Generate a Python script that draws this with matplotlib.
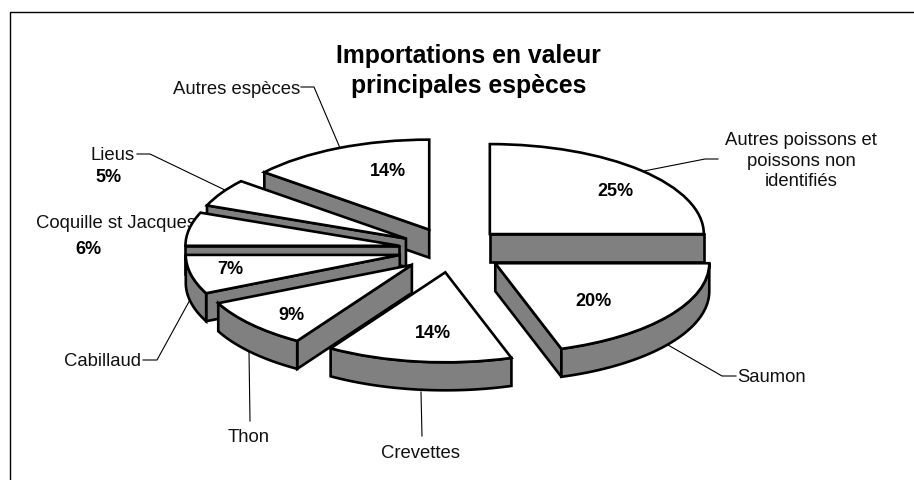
import numpy as np
import matplotlib
matplotlib.use("Agg")
import matplotlib.pyplot as plt
from matplotlib.patches import Wedge, Polygon

plt.rcParams['font.family'] = ['Liberation Sans', 'DejaVu Sans']

# --- data ---
species = ["Autres poissons et\npoissons non\nidentifiés", "Saumon", "Crevettes", "Thon",
           "Cabillaud", "Coquille st Jacques", "Lieus", "Autres espèces"]
shares = [25, 20, 14, 9, 7, 6, 5, 14]
title_text = "Importations en valeur\nprincipales espèces"

# --- style / layout ---
W, H = 914, 480
CX, CY = 452, 250          # pie centre, pixels
RX, RY = 214, 90           # pie radii, pixels
DEPTH = 28 / RY
EXPLODE = 0.25
GREY = "#808080"
LW = 1.9

fig = plt.figure(figsize=(W / 100, H / 100), dpi=100, facecolor="white")

# background layer, in pixels: frame, labels, leaders
back = fig.add_axes([0, 0, 1, 1], zorder=0)
back.set_xlim(0, W)
back.set_ylim(H, 0)
back.axis("off")

# pie layer: one data unit = one radius, so circles come out as ellipses
pie = fig.add_axes([0, 0, 1, 1], zorder=1)
pie.set_xlim(-CX / RX, (W - CX) / RX)
pie.set_ylim(-(H - CY) / RY, CY / RY)
pie.axis("off")
pie.patch.set_alpha(0)

# frame: left and top only
back.plot([9.5, 9.5, W], [H, 12, 12], color="black", lw=1.0, clip_on=False)

# slices
ends = np.cumsum(shares) / sum(shares) * 360
starts = ends - np.array(shares) / sum(shares) * 360


def pt(t, r=1.0):
    a = np.radians(t)
    return r * np.sin(a), r * np.cos(a)


slices = []
for s, e in zip(starts, ends):
    mid = (s + e) / 2
    ox, oy = pt(mid, EXPLODE)
    slices.append((s, e, ox, oy))

wall_kw = dict(facecolor=GREY, edgecolor="black", lw=LW, joinstyle="miter")
for s, e, ox, oy in sorted(slices, key=lambda q: -q[3]):
    # radial cut faces
    for t, visible in ((s, np.sin(np.radians(s)) < -1e-6), (e, np.sin(np.radians(e)) > 1e-6)):
        if visible:
            x, y = pt(t)
            pie.add_patch(Polygon([(ox, oy), (ox + x, oy + y), (ox + x, oy + y - DEPTH),
                                   (ox, oy - DEPTH)], closed=True, **wall_kw))
    # outer rim wall (front half only)
    lo, hi = max(s, 90), min(e, 270)
    if hi > lo:
        ts = np.linspace(lo, hi, 60)
        xs, ys = pt(ts)
        top = np.column_stack([ox + xs, oy + ys])
        bottom = np.column_stack([ox + xs, oy + ys - DEPTH])[::-1]
        pie.add_patch(Polygon(np.vstack([top, bottom]), closed=True, **wall_kw))
    # top face
    pie.add_patch(Wedge((ox, oy), 1, 90 - e, 90 - s, facecolor="white",
                        edgecolor="black", lw=LW, joinstyle="miter"))

# title
back.text(468.5, 71, title_text, ha="center", va="center", fontsize=17.8, fontweight="bold",
          linespacing=1.28)

# category labels and leaders
LABEL = dict(fontsize=13.3, color="#111111", va="center")
LEAD = dict(color="black", lw=0.8)
back.text(801, 161, species[0], ha="center", linespacing=1.25, **LABEL)
back.plot([644, 705, 718], [171, 159, 159], **LEAD)
back.text(737, 377, species[1], ha="left", **LABEL)
back.plot([668, 722, 736], [345, 376, 376], **LEAD)
back.text(421, 453, species[2], ha="center", **LABEL)
back.plot([421, 422], [392, 436], **LEAD)
back.text(249, 437, species[3], ha="center", **LABEL)
back.plot([249, 250], [352, 421], **LEAD)
back.text(141, 361, species[4], ha="right", **LABEL)
back.plot([143, 157, 191], [360, 360, 298], **LEAD)
back.text(36, 223, species[5], ha="left", **LABEL)
back.text(91, 155, species[6], ha="left", **LABEL)
back.plot([137, 150, 227], [154, 154, 191], **LEAD)
back.text(300, 89, species[7], ha="right", **LABEL)
back.plot([301, 314, 340], [87, 87, 148], **LEAD)

# percentages
PCT = dict(fontsize=13, fontweight="bold", color="black", va="center", ha="center")
pct_xy = [(615, 191), (593, 301), (433, 334), (291, 315), (230, 270), (88, 249), (108, 178), (388, 171)]
for v, (x, y) in zip(shares, pct_xy):
    target = pie if (x, y) not in pct_xy[5:7] else back
    target.text(x, y, f"{v}%", transform=back.transData, zorder=10, **PCT)

fig.savefig("out.png", dpi=100, facecolor="white")
